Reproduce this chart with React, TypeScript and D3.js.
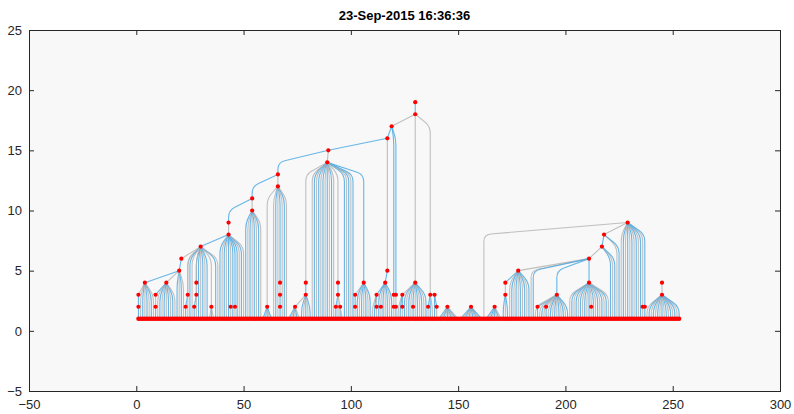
import React, { useRef, useEffect } from "react";
import * as d3 from "d3";

const title = "23-Sep-2015 16:36:36";
const xTicks = [-50, 0, 50, 100, 150, 200, 250, 300];
const yTicks = [-5, 0, 5, 10, 15, 20, 25];
const leafLevel = 1;

// internal nodes: [id, x, y, parent id]
const nodes: [string, number, number, string | null][] = [
  ["a1", 1, 2, "b1"], ["b1", 1, 3, "c4"], ["c4", 4, 4, "g20"],
  ["d9", 9, 2, "e9"], ["e9", 9, 3, "f14"], ["f14", 14, 4, "g20"],
  ["g20", 20, 5, "h21"], ["h21", 21, 6, "i30"],
  ["n23", 23, 2, "n24"], ["n24", 24, 3, "i30"],
  ["n27", 27, 2, "n28a"], ["n28a", 28, 3, "n28b"], ["n28b", 28, 4, "i30"],
  ["n35", 35, 2, "i30"], ["i30", 30, 7, "j43"],
  ["n44", 44, 2, "j43"], ["n46", 46, 2, "j43"],
  ["j43", 43, 8, "k43"], ["k43", 43, 9, "m54"],
  ["l54", 54, 10, "m54"], ["m54", 54, 11, "n66b"],
  ["n61", 61, 2, "n66a"],
  ["n67a", 67, 2, "n67b"], ["n67b", 67, 3, "n67c"], ["n67c", 67, 4, "n66a"],
  ["n66a", 66, 12, "n66b"], ["n66b", 66, 13, "p89"],
  ["n74", 74, 2, "n79a"], ["n79a", 79, 3, "n79b"], ["n79b", 79, 4, "o89"],
  ["n93", 93, 2, "n94a"], ["n95", 95, 2, "n94a"],
  ["n94a", 94, 3, "n94b"], ["n94b", 94, 4, "o89"],
  ["n102a", 102, 2, "n102b"], ["n102b", 102, 3, "n106"], ["n106", 106, 4, "o89"],
  ["o89", 89, 14, "p89"], ["p89", 89.5, 15, "q117"],
  ["n112a", 112, 2, "n112b"], ["n112b", 112, 3, "r116"], ["n114", 114, 2, "r116"],
  ["r116", 116, 4, "r117"], ["r117", 117, 5, "q117"],
  ["q117", 117, 16, "s119"],
  ["n120a", 120, 2, "n120b"], ["n120b", 120, 3, "s119"],
  ["n121a", 121, 2, "n121b"], ["n121b", 121, 3, "s119"],
  ["s119", 119, 17, "t130"],
  ["n124a", 124, 2, "n124b"], ["n124b", 124, 3, "u130"], ["n129", 129, 2, "u130"],
  ["u130", 130, 4, "t130"],
  ["n136", 136, 2, "n137"], ["n137", 137, 3, "t130"],
  ["n140", 140, 2, "n139"], ["n139", 139, 3, "n137"],
  ["t130", 130, 18, "v130"], ["v130", 130, 19, null],
  ["n145", 145, 2, null], ["n156", 156, 2, null], ["n167", 167, 2, null],
  ["n172a", 172, 3, "n172b"], ["n172b", 172, 4, "w178"], ["w178", 178, 5, "x211"],
  ["n187", 187, 2, "n196"], ["n191", 191, 2, "n196"], ["n196", 196, 3, "x211"],
  ["n212", 212, 2, "y211"], ["y211", 211, 4, "x211"],
  ["x211", 211, 6, "z217"], ["z217", 217, 7, "z218"], ["z218", 218, 8, "aa229"],
  ["aa229", 229, 9, null],
  ["n236", 236, 2, "aa229"], ["n237", 237, 2, "aa229"],
  ["n245a", 245, 3, "n245b"], ["n245b", 245, 4, null],
];

// leaves sit at y = 1: [first leaf, last leaf, parent id]
const leafRuns: [number, number, string][] = [
  [1, 1, "a1"], [2, 8, "c4"], [9, 9, "d9"], [10, 18, "f14"], [19, 22, "g20"],
  [23, 23, "n23"], [24, 26, "i30"], [27, 27, "n27"], [28, 33, "i30"],
  [34, 36, "n35"], [37, 38, "i30"], [39, 43, "j43"], [44, 44, "n44"],
  [45, 45, "j43"], [46, 46, "n46"], [47, 50, "j43"], [51, 58, "l54"],
  [59, 63, "n61"], [64, 66, "n66a"], [67, 67, "n67a"], [68, 70, "n66a"],
  [71, 76, "n74"], [77, 81, "n79a"], [82, 92, "o89"], [93, 93, "n93"],
  [94, 94, "n94a"], [95, 96, "n95"], [97, 101, "o89"], [102, 102, "n102a"],
  [103, 109, "n106"], [110, 111, "n112b"], [112, 112, "n112a"], [113, 113, "r116"],
  [114, 114, "n114"], [115, 119, "r116"], [120, 120, "n120a"], [121, 121, "n121a"],
  [122, 123, "n124b"], [124, 124, "n124a"], [125, 128, "u130"], [129, 129, "n129"],
  [130, 135, "u130"], [136, 136, "n136"], [137, 138, "n137"], [139, 139, "n139"],
  [140, 140, "n140"], [141, 150, "n145"], [151, 161, "n156"], [162, 162, "aa229"],
  [163, 170, "n167"], [171, 173, "n172a"], [174, 183, "w178"], [184, 185, "x211"],
  [186, 186, "n196"], [187, 187, "n187"], [188, 190, "n196"], [191, 191, "n191"],
  [192, 201, "n196"], [202, 211, "y211"], [212, 212, "n212"], [213, 220, "y211"],
  [221, 223, "z217"], [224, 225, "z218"], [226, 235, "aa229"], [236, 236, "n236"],
  [237, 237, "n237"], [238, 253, "n245a"],
];

const BLUE = "#4eaae4";
const GRAY = "#b5b5b5";

export default function App() {
  const ref = useRef<SVGSVGElement>(null);

  useEffect(() => {
    if (!ref.current) return;
    const svg = d3.select(ref.current);
    svg.selectAll("*").remove();

    const left = 29, right = 780, top = 30, bottom = 391;
    const x = d3.scaleLinear().domain([-50, 300]).range([left, right]);
    const y = d3.scaleLinear().domain([-5, 25]).range([bottom, top]);

    svg.append("rect").attr("width", 794).attr("height", 414).attr("fill", "#fff");
    svg.append("rect")
      .attr("x", left).attr("y", top)
      .attr("width", right - left).attr("height", bottom - top)
      .attr("fill", "#f8f8f8");

    const byId = new Map(nodes.map((n) => [n[0], n]));

    const links: { xc: number; yc: number; xp: number; yp: number; c: string }[] = [];
    nodes.forEach((n, i) => {
      if (!n[3]) return;
      const p = byId.get(n[3])!;
      links.push({ xc: n[1], yc: n[2], xp: p[1], yp: p[2], c: i % 2 ? GRAY : BLUE });
    });
    const leaves: number[] = [];
    leafRuns.forEach(([a, b, pid]) => {
      const p = byId.get(pid)!;
      for (let i = a; i <= b; i++) {
        leaves.push(i);
        links.push({ xc: i, yc: leafLevel, xp: p[1], yp: p[2], c: i % 2 ? BLUE : GRAY });
      }
    });

    // rise vertically to one level below the parent, round the corner, then run straight in
    const linkPath = (l: { xc: number; yc: number; xp: number; yp: number }) => {
      const h = Math.min(l.yp - l.yc, 1);
      const sx = x(l.xc), sy = y(l.yc);
      const kx = sx, ky = y(l.yp - h);
      const px = x(l.xp), py = y(l.yp);
      const len1 = sy - ky;
      const len2 = Math.hypot(px - kx, py - ky);
      const r = Math.min(7, len1, len2 * 0.6);
      const p = d3.path();
      p.moveTo(sx, sy);
      if (r < 0.5) {
        p.lineTo(px, py);
      } else {
        const ux = (px - kx) / len2, uy = (py - ky) / len2;
        p.lineTo(kx, ky + r);
        p.quadraticCurveTo(kx, ky, kx + ux * r, ky + uy * r);
        p.lineTo(px, py);
      }
      return p.toString();
    };

    const plot = svg.append("g");
    plot.selectAll("path.link")
      .data(links)
      .enter()
      .append("path")
      .attr("class", "link")
      .attr("d", linkPath)
      .attr("fill", "none")
      .attr("stroke", (d) => d.c)
      .attr("stroke-width", 1.1)
      .attr("stroke-opacity", 0.85);

    plot.selectAll("circle.leaf")
      .data(leaves)
      .enter()
      .append("circle")
      .attr("class", "leaf")
      .attr("cx", (d) => x(d))
      .attr("cy", y(leafLevel))
      .attr("r", 2.2)
      .attr("fill", "#ff0000");

    plot.selectAll("circle.node")
      .data(nodes)
      .enter()
      .append("circle")
      .attr("class", "node")
      .attr("cx", (d) => x(d[1]))
      .attr("cy", (d) => y(d[2]))
      .attr("r", 2.1)
      .attr("fill", "#ff0000");

    // axes (ticks pointing inward, box on)
    const font = "'Liberation Sans', Arial, Helvetica, sans-serif";
    const styleAxis = (g: any) => {
      g.select(".domain").remove();
      g.selectAll("line").attr("stroke", "#262626");
      g.selectAll("text").attr("fill", "#262626").attr("font-size", "13px").attr("font-family", font);
    };
    svg.append("g").attr("transform", `translate(0,${bottom})`)
      .call(d3.axisBottom(x).tickValues(xTicks).tickSize(-5).tickPadding(9))
      .call(styleAxis);
    svg.append("g").attr("transform", `translate(${left},0)`)
      .call(d3.axisLeft(y).tickValues(yTicks).tickSize(-5).tickPadding(7))
      .call(styleAxis);
    svg.append("g").attr("transform", `translate(0,${top})`)
      .call(d3.axisTop(x).tickValues(xTicks).tickSize(-5).tickFormat(() => ""))
      .call(styleAxis);
    svg.append("g").attr("transform", `translate(${right},0)`)
      .call(d3.axisRight(y).tickValues(yTicks).tickSize(-5).tickFormat(() => ""))
      .call(styleAxis);

    svg.append("rect")
      .attr("x", left + 0.5).attr("y", top + 0.5)
      .attr("width", right - left).attr("height", bottom - top)
      .attr("fill", "none").attr("stroke", "#262626").attr("stroke-width", 1);

    svg.append("text")
      .attr("x", (left + right) / 2).attr("y", 20)
      .attr("text-anchor", "middle")
      .attr("font-family", font).attr("font-size", "13px").attr("font-weight", "bold")
      .attr("fill", "#000")
      .text(title);
  }, []);

  return (
    <svg ref={ref} width={794} height={414}
      style={{ position: "absolute", left: 0, top: 0, display: "block" }} />
  );
}
